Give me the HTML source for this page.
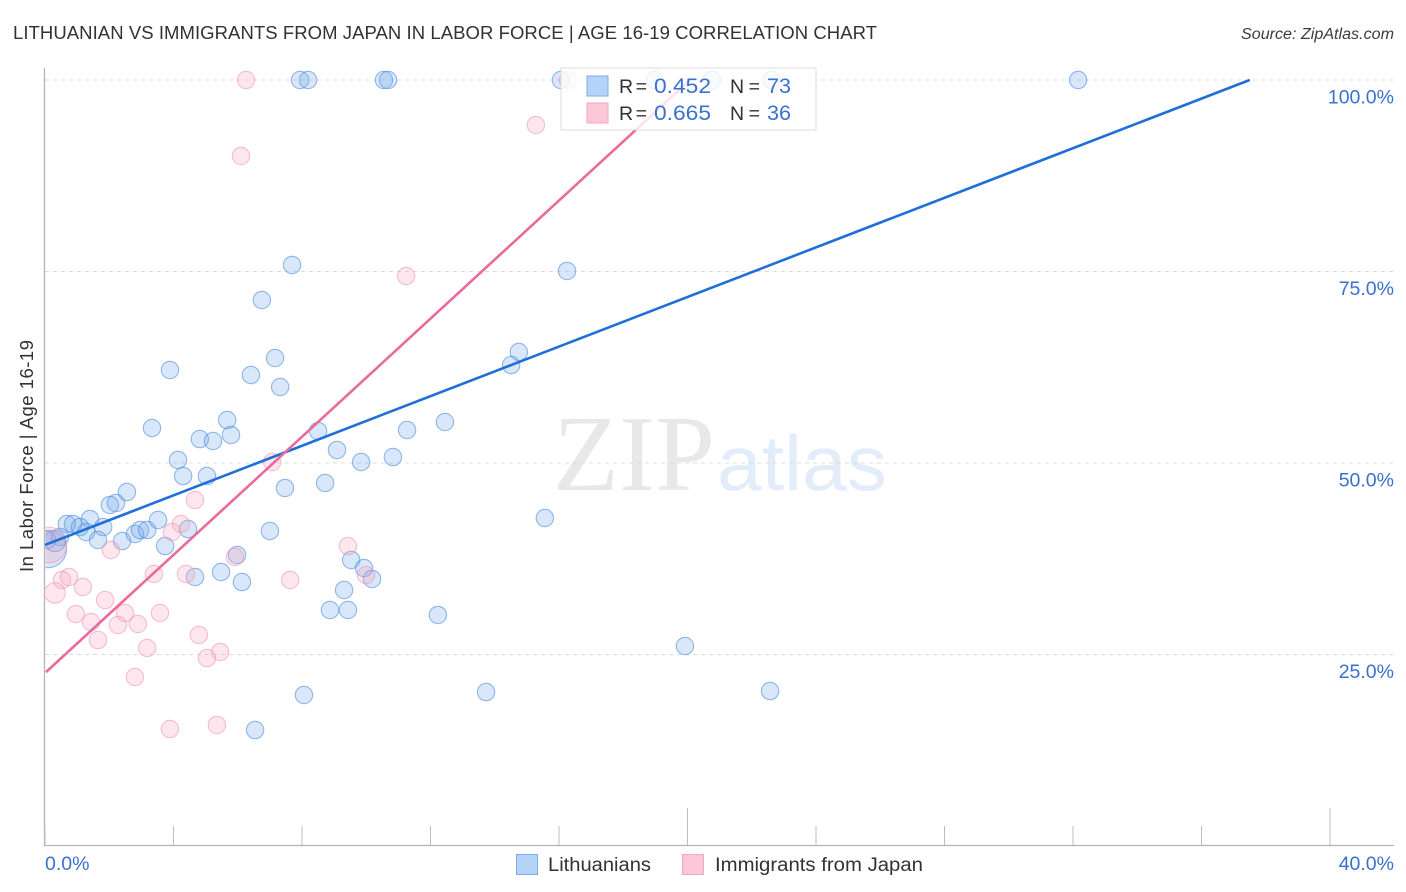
<!DOCTYPE html>
<html lang="en">
<head>
<meta charset="utf-8">
<title>Lithuanian vs Immigrants from Japan in Labor Force | Age 16-19 Correlation Chart</title>
<style>
html,body{margin:0;padding:0;background:#fff;width:1406px;height:892px;overflow:hidden}
svg{display:block}
text{font-family:"Liberation Sans",sans-serif}
</style>
</head>
<body>
<svg id="chart" width="1406" height="892" viewBox="0 0 1406 892" xmlns="http://www.w3.org/2000/svg">
  <defs><clipPath id="plot-clip"><rect x="45.5" y="60" width="1349" height="785"/></clipPath></defs>
  <text x="13" y="39" font-size="18.5" fill="#303236" textLength="864" lengthAdjust="spacing">LITHUANIAN VS IMMIGRANTS FROM JAPAN IN LABOR FORCE | AGE 16-19 CORRELATION CHART</text>
  <text x="1241" y="39" font-size="15.5" font-style="italic" fill="#3a3c40" textLength="153" lengthAdjust="spacingAndGlyphs">Source: ZipAtlas.com</text>
  <g>
    <text x="553" y="490" font-size="108" fill="#e8e8e8" textLength="162" lengthAdjust="spacingAndGlyphs" style="font-family:'Liberation Serif',serif">ZIP</text>
    <text x="717" y="490" font-size="78" fill="#e3ecf9" textLength="170" lengthAdjust="spacingAndGlyphs">atlas</text>
  </g>
  <g id="grid"></g>
  <g id="axes"></g>
  <g id="points" clip-path="url(#plot-clip)"></g>
  <g id="trends"></g>
  <text transform="translate(33,456) rotate(-90)" font-size="18.5" fill="#303236" text-anchor="middle" textLength="232" lengthAdjust="spacing">In Labor Force | Age 16-19</text>
  <g>
    <rect x="561" y="68" width="255" height="62" fill="#fff" fill-opacity="0.82" stroke="#dcdcdc" stroke-width="1"/>
    <rect x="587" y="76" width="21" height="20" fill="#b5d3f7" stroke="#7dabe6"/>
    <rect x="587" y="103" width="21" height="20" fill="#fcc8d9" stroke="#f3a6c0"/>
    <text x="619" y="93" font-size="19.5" fill="#303236" textLength="28" lengthAdjust="spacing">R =</text>
    <text x="654" y="93" font-size="21" fill="#3a70cf" textLength="57" lengthAdjust="spacingAndGlyphs">0.452</text>
    <text x="730" y="93" font-size="19.5" fill="#303236" textLength="30" lengthAdjust="spacing">N =</text>
    <text x="767" y="93" font-size="21" fill="#3a70cf" textLength="24" lengthAdjust="spacingAndGlyphs">73</text>
    <text x="619" y="120" font-size="19.5" fill="#303236" textLength="28" lengthAdjust="spacing">R =</text>
    <text x="654" y="120" font-size="21" fill="#3a70cf" textLength="57" lengthAdjust="spacingAndGlyphs">0.665</text>
    <text x="730" y="120" font-size="19.5" fill="#303236" textLength="30" lengthAdjust="spacing">N =</text>
    <text x="767" y="120" font-size="21" fill="#3a70cf" textLength="24" lengthAdjust="spacingAndGlyphs">36</text>
  </g>
  <g>
    <rect x="516.5" y="854.5" width="21" height="20" fill="#b5d3f7" stroke="#7dabe6"/>
    <text x="548" y="871" font-size="19" fill="#303236" textLength="103" lengthAdjust="spacingAndGlyphs">Lithuanians</text>
    <rect x="682.5" y="854.5" width="21" height="20" fill="#fcc8d9" stroke="#f3a6c0"/>
    <text x="715" y="871" font-size="19" fill="#303236" textLength="208" lengthAdjust="spacingAndGlyphs">Immigrants from Japan</text>
  </g>
</svg>
<script>
const yTickValues = [25, 50, 75, 100];
const yTickLabels = ["25.0%", "50.0%", "75.0%", "100.0%"];
const xTickValues = [0, 4, 8, 12, 16, 20, 24, 28, 32, 36, 40];
const xMajorTicks = [20, 40];
const xEndValues = [0, 40];
const xEndLabels = ["0.0%", "40.0%"];

const blueX = [7.94,8.19,10.55,10.68,16.06,18.99,20.76,22.60,32.16,7.69,16.25,6.75,14.75,14.51,7.16,3.89,6.41,7.32,5.67,12.45,3.33,11.27,5.79,8.50,4.82,5.23,9.09,10.83,9.84,4.14,4.30,5.04,8.72,7.47,2.55,2.02,2.21,1.40,0.68,0.87,1.09,1.28,1.81,1.65,2.40,2.80,2.96,3.18,3.52,4.45,7.00,15.56,3.74,5.98,5.48,4.67,6.13,9.53,9.93,10.18,9.31,8.87,9.43,12.23,19.92,8.06,13.73,22.57,6.54,0.09,0.31,0.47,0.06];
const blueY = [100,100,100,100,100,100,100,100,100,75.85,75.07,71.28,64.49,62.79,63.71,62.14,61.49,59.92,55.61,55.35,54.57,54.31,53.66,54.18,53.13,52.87,51.70,50.78,50.13,50.39,48.30,48.30,47.39,46.74,46.21,44.52,44.78,42.69,42.04,42.04,41.64,40.99,41.64,39.95,39.82,40.73,41.25,41.25,42.56,41.38,41.12,42.82,39.16,37.99,35.77,35.12,34.46,37.34,36.29,34.86,33.42,30.81,30.81,30.16,26.11,19.71,20.10,20.23,15.14,38.77,39.82,40.34,39.95];
const blueWeight = [1,1,1,1,1,1,1,1,1,1,1,1,1,1,1,1,1,1,1,1,1,1,1,1,1,1,1,1,1,1,1,1,1,1,1,1,1,1,1,1,1,1,1,1,1,1,1,1,1,1,1,1,1,1,1,1,1,1,1,1,1,1,1,1,1,1,1,1,1,4.6,1.5,1,1];

const pinkX = [6.26,16.28,6.10,15.28,11.24,7.07,4.67,4.23,3.95,0.12,2.05,5.91,9.43,7.63,4.39,3.39,9.99,0.53,0.75,1.18,0.31,1.87,0.96,3.58,2.49,1.43,2.27,2.89,1.65,4.79,3.18,5.45,5.04,2.80,5.35,3.89];
const pinkY = [100,100,90.08,94.13,74.41,50.13,45.17,42.04,40.99,39.30,38.64,37.73,39.16,34.73,35.51,35.51,35.38,34.73,35.12,33.81,33.03,32.11,30.29,30.42,30.42,29.24,28.85,28.98,26.89,27.55,25.85,25.33,24.54,22.06,15.80,15.27];
const pinkWeight = [1,1,1,1,1,1,1,1,1,4.2,1,1,1,1,1,1,1,1,1,1,1.4,1,1,1,1,1,1,1,1,1,1,1,1,1,1,1];

const blueTrendX = [0, 37.5];
const blueTrendY = [39.3, 100];
const pinkTrendX = [0.03, 20.08];
const pinkTrendY = [22.7, 100];

const NS = 'http://www.w3.org/2000/svg';
function xScale(v) { return 45 + v * 32.125; }
function yScale(v) { return 846 - v * 7.66; }
function make(tag, attrs, parent) {
  const el = document.createElementNS(NS, tag);
  for (const k in attrs) el.setAttribute(k, attrs[k]);
  parent.appendChild(el);
  return el;
}
const grid = document.getElementById('grid');
const axes = document.getElementById('axes');
const points = document.getElementById('points');
const trends = document.getElementById('trends');

yTickValues.forEach(function (v, i) {
  const line = make('line', {x1: 45, x2: 1394, y1: yScale(v), y2: yScale(v), stroke: '#dcdcdc', 'stroke-width': 1, 'stroke-dasharray': '4 4'}, grid);
  
  
  const label = make('text', {x: 1394, y: yScale(v) + 23.5, 'font-size': 19.5, fill: '#3a70cf', 'text-anchor': 'end'}, axes);
  label.textContent = yTickLabels[i];
  
  
});

const yAxis = make('line', {x1: 44.5, x2: 44.5, y1: 68, y2: 846, stroke: '#b4b4b4', 'stroke-width': 1.3}, axes);


const xAxis = make('line', {x1: 44, x2: 1394, y1: 845.5, y2: 845.5, stroke: '#b4b4b4', 'stroke-width': 1.3}, axes);



xTickValues.forEach(function (v) {
  const top = xMajorTicks.indexOf(v) >= 0 ? 808 : 826;
  const tick = make('line', {x1: xScale(v), x2: xScale(v), y1: top, y2: 845, stroke: '#bdbdbd', 'stroke-width': 1}, axes);
  
  
});

xEndValues.forEach(function (v, i) {
  const label = make('text', {x: i === 0 ? xScale(v) : 1394, y: 870, 'font-size': 19.5, fill: '#3a70cf', 'text-anchor': i === 0 ? 'start' : 'end'}, axes);
  label.textContent = xEndLabels[i];
  
  
});

function radius(w) { return 8.7 * Math.sqrt(w); }

blueX.forEach(function (x, i) {
  const c = make('circle', {cx: xScale(x), cy: yScale(blueY[i]), r: radius(blueWeight[i]), fill: '#6ea6ea', 'fill-opacity': 0.27, stroke: '#4f8ede', 'stroke-opacity': 0.6, 'stroke-width': 1.1}, points);
  
  
});
pinkX.forEach(function (x, i) {
  const c = make('circle', {cx: xScale(x), cy: yScale(pinkY[i]), r: radius(pinkWeight[i]), fill: '#f7a3bf', 'fill-opacity': 0.27, stroke: '#ee8fb0', 'stroke-opacity': 0.55, 'stroke-width': 1.1}, points);
  
  
});

const blueLine = make('line', {x1: xScale(blueTrendX[0]), y1: yScale(blueTrendY[0]), x2: xScale(blueTrendX[1]), y2: yScale(blueTrendY[1]), stroke: '#1f6fd8', 'stroke-width': 2.6}, trends);


const pinkLine = make('line', {x1: xScale(pinkTrendX[0]), y1: yScale(pinkTrendY[0]), x2: xScale(pinkTrendX[1]), y2: yScale(pinkTrendY[1]), stroke: '#e96a9b', 'stroke-width': 2.6}, trends);


</script>
</body>
</html>
